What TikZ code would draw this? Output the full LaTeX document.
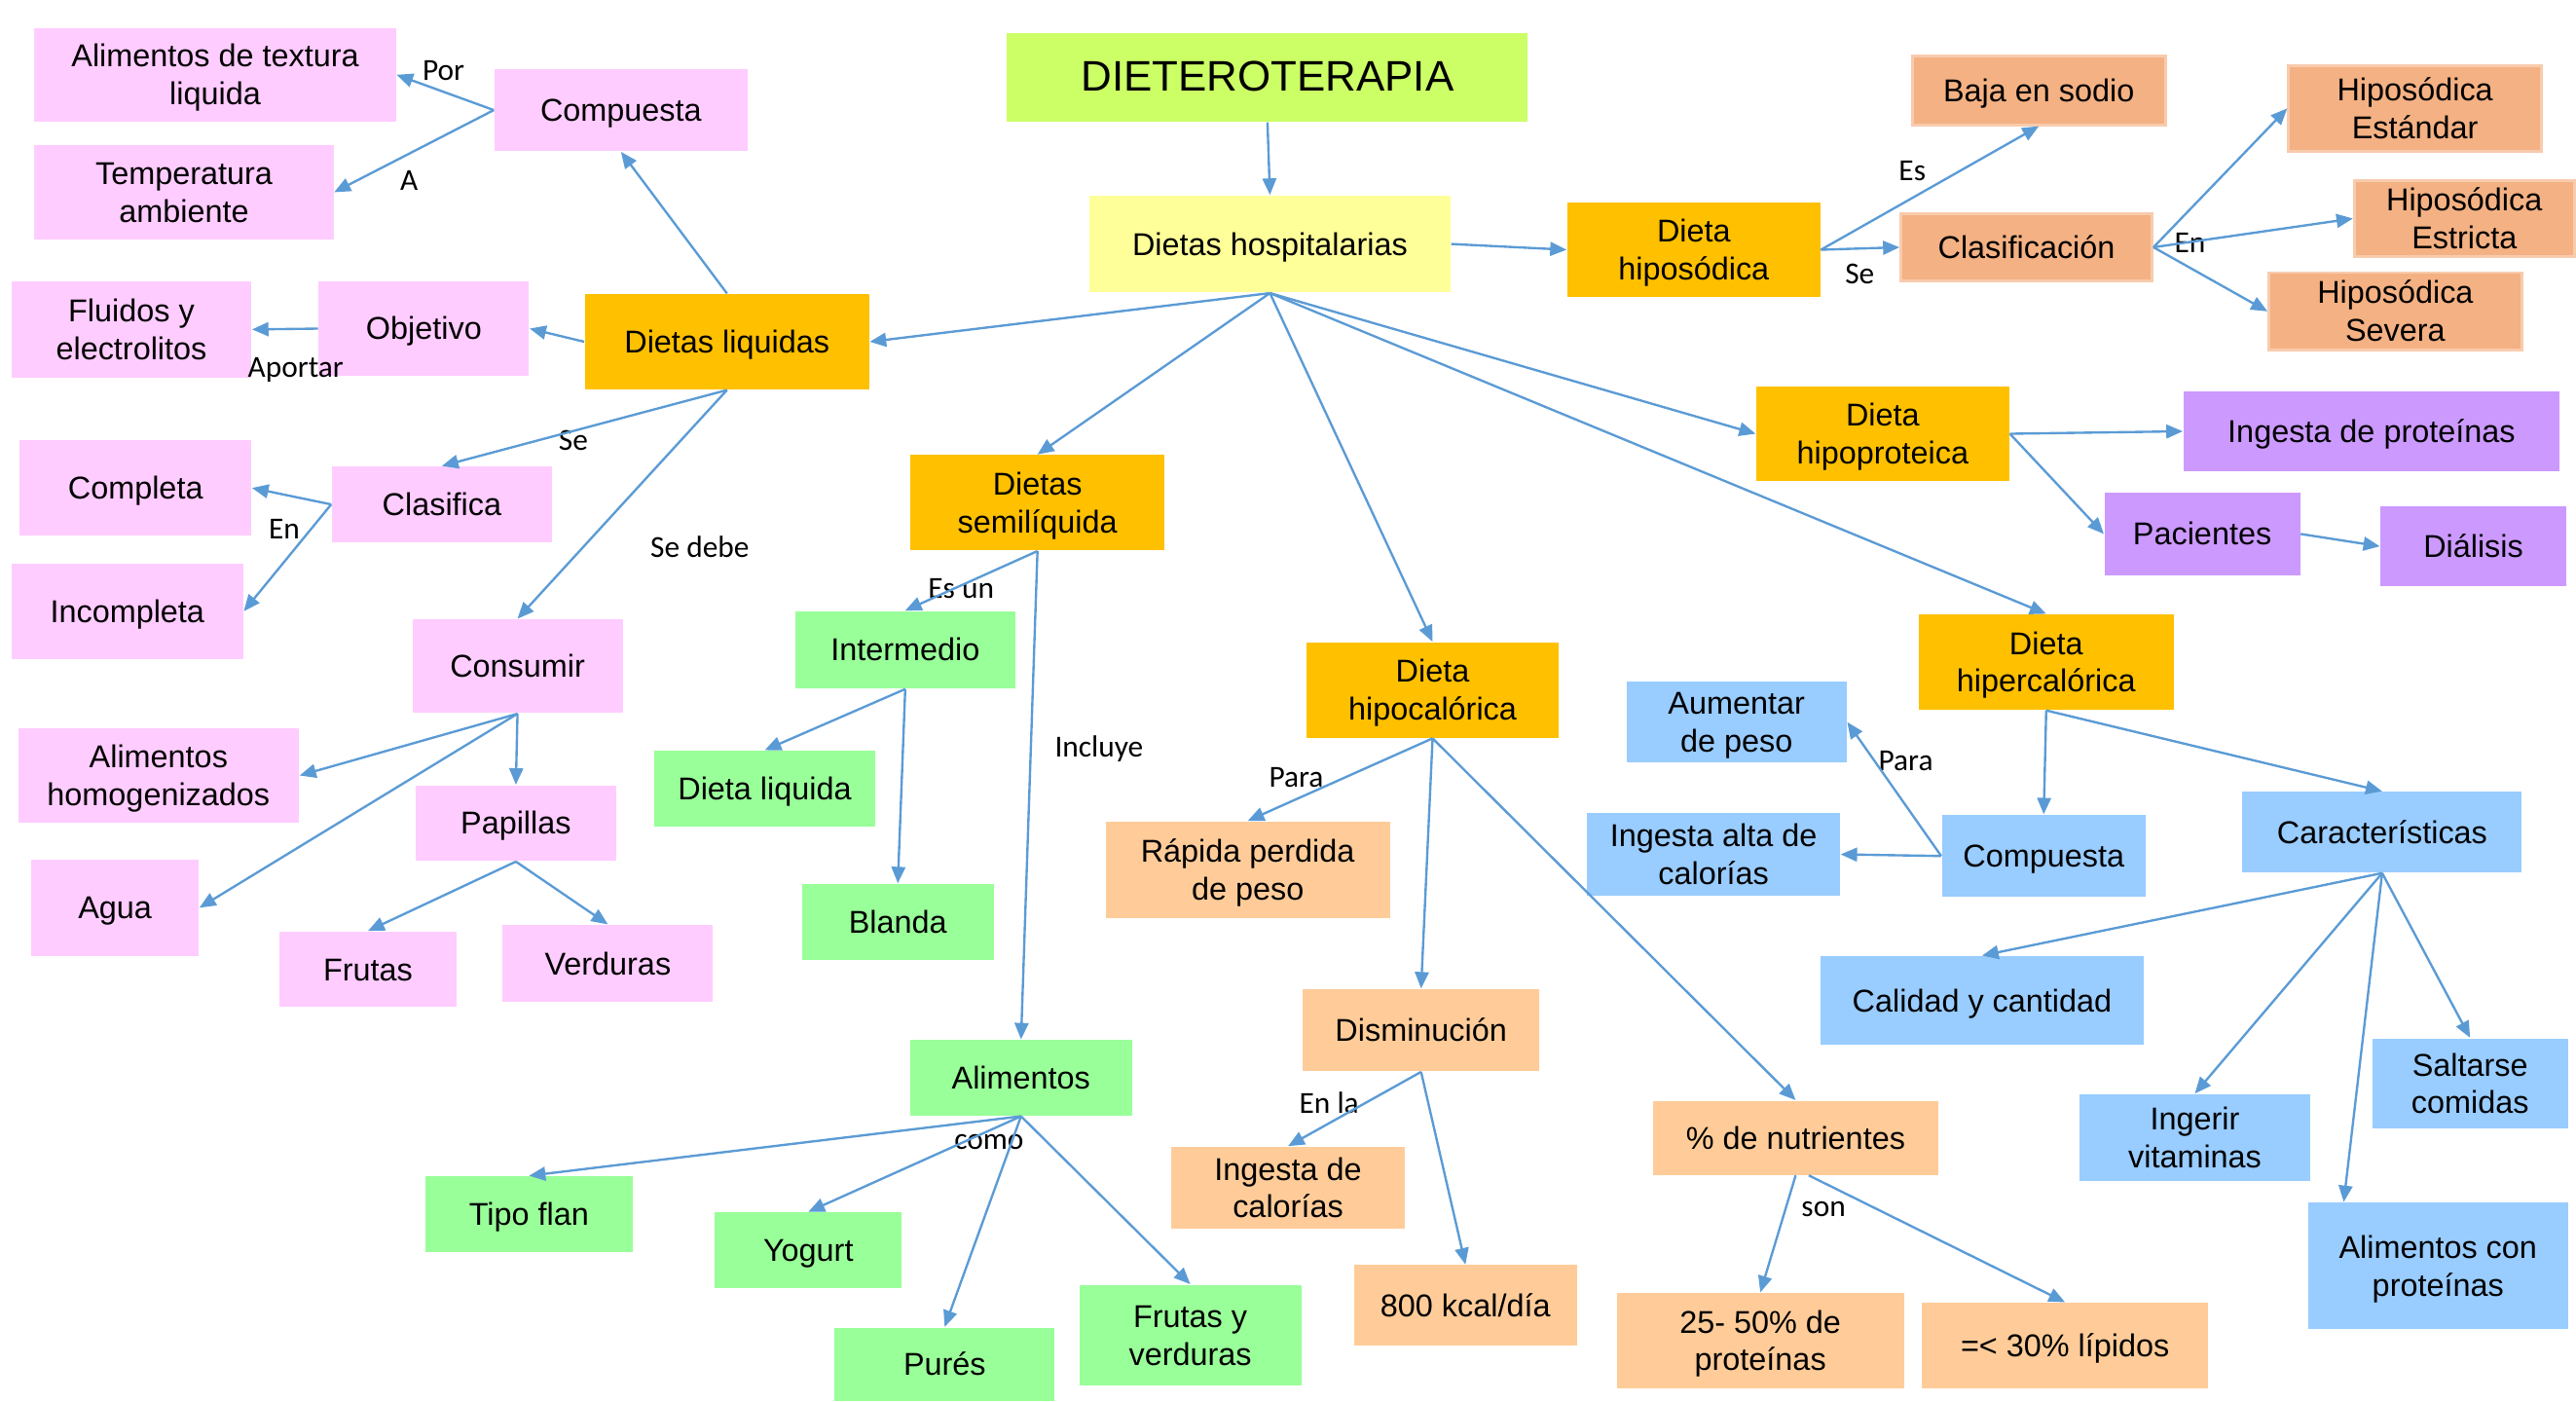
\documentclass[tikz,border=0pt]{standalone}
\usepackage{fontspec}
\setmainfont{Liberation Sans}
\newfontfamily\lblfont{Carlito}
\usetikzlibrary{arrows.meta,calc}
\definecolor{cLime}{HTML}{CCFF66}
\definecolor{cYel}{HTML}{FFFF99}
\definecolor{cOra}{HTML}{FFC000}
\definecolor{cPink}{HTML}{FFCCFF}
\definecolor{cSal}{HTML}{F4B183}
\definecolor{cSalB}{HTML}{F8CBAD}
\definecolor{cPur}{HTML}{CC99FF}
\definecolor{cGre}{HTML}{99FF99}
\definecolor{cPea}{HTML}{FFCC99}
\definecolor{cBlu}{HTML}{99CCFF}
\definecolor{cArr}{HTML}{5B9BD5}
\newcommand\bx[7]{\node[#1, minimum width={(#5-#3)*0.5pt}, minimum height={(#6-#4)*0.5pt}] (#2) at ({(#3+#5)/2},{(#4+#6)/2}) {\raisebox{-1.1pt}[\height][\depth]{\begin{tabular}{@{}c@{}}#7\end{tabular}}};}
\tikzset{
  box/.style={inner sep=0pt, font=\fontsize{9.6}{11.5}\selectfont},
  tit/.style={box, fill=cLime, font=\fontsize{13}{15}\selectfont},
  yel/.style={box, fill=cYel},
  ora/.style={box, fill=cOra},
  pk/.style={box, fill=cPink},
  salm/.style={box, fill=cSal, draw=cSalB, line width=0.8pt},
  pur/.style={box, fill=cPur},
  gre/.style={box, fill=cGre},
  pea/.style={box, fill=cPea},
  blu/.style={box, fill=cBlu},
  lbl/.style={inner sep=0pt, font=\lblfont\fontsize{9.3}{11}\selectfont},
  arr/.style={draw=cArr, line width=0.7pt, -{Triangle[length=5pt,width=4.2pt]}}
}
\begin{document}
\begin{tikzpicture}[x=0.5pt,y=-0.5pt]
\useasboundingbox (0,0) rectangle (1568,853);
% nodes
\bx{tit}{title}{613}{20}{930}{74}{DIETEROTERAPIA}
\bx{yel}{dh}{663}{119}{883}{178}{Dietas hospitalarias}
\bx{ora}{hs}{954}{123}{1108}{181}{Dieta\\hiposódica}
\bx{salm}{bs}{1164}{34}{1318}{76}{Baja en sodio}
\bx{salm}{cl}{1157}{130}{1310}{171}{Clasificación}
\bx{salm}{est}{1393}{40}{1547}{92}{Hiposódica\\Estándar}
\bx{salm}{estr}{1433}{110}{1567}{156}{Hiposódica\\Estricta}
\bx{salm}{sev}{1381}{166}{1535}{213}{Hiposódica\\Severa}
\bx{ora}{hp}{1069}{235}{1223}{293}{Dieta\\hipoproteica}
\bx{pur}{ip}{1329}{238}{1558}{287}{Ingesta de proteínas}
\bx{pur}{pac}{1281}{300}{1400}{350}{Pacientes}
\bx{pur}{dia}{1449}{308}{1562}{357}{Diálisis}
\bx{ora}{hc}{1168}{374}{1323}{432}{Dieta\\hipercalórica}
\bx{blu}{aum}{990}{415}{1124}{464}{Aumentar\\de peso}
\bx{blu}{iac}{966}{495}{1120}{545}{Ingesta alta de\\calorías}
\bx{blu}{cpb}{1182}{496}{1306}{546}{Compuesta}
\bx{blu}{car}{1365}{482}{1535}{531}{Características}
\bx{blu}{cyc}{1108}{582}{1305}{636}{Calidad y cantidad}
\bx{blu}{salt}{1444}{632}{1563}{687}{Saltarse\\comidas}
\bx{blu}{ing}{1266}{666}{1406}{719}{Ingerir\\vitaminas}
\bx{blu}{acp}{1405}{732}{1563}{809}{Alimentos con\\proteínas}
\bx{pea}{nut}{1006}{670}{1180}{715}{\% de nutrientes}
\bx{pea}{n25}{984}{787}{1159}{845}{25- 50\% de\\proteínas}
\bx{pea}{lip}{1170}{793}{1344}{845}{=< 30\% lípidos}
\bx{ora}{hco}{795}{391}{949}{449}{Dieta\\hipocalórica}
\bx{pea}{rp}{673}{500}{846}{559}{Rápida perdida\\de peso}
\bx{pea}{dis}{793}{602}{937}{652}{Disminución}
\bx{pea}{ic}{713}{698}{855}{748}{Ingesta de\\calorías}
\bx{pea}{kcal}{824}{770}{960}{819}{800 kcal/día}
\bx{ora}{sem}{554}{277}{709}{335}{Dietas\\semilíquida}
\bx{gre}{inter}{484}{372}{618}{419}{Intermedio}
\bx{gre}{dliq}{398}{457}{533}{503}{Dieta liquida}
\bx{gre}{bla}{488}{538}{605}{584}{Blanda}
\bx{gre}{ali}{554}{633}{689}{679}{Alimentos}
\bx{gre}{flan}{259}{716}{385}{762}{Tipo flan}
\bx{gre}{yog}{435}{738}{549}{784}{Yogurt}
\bx{gre}{pur}{508}{808}{642}{853}{Purés}
\bx{gre}{fyv}{657}{782}{792}{843}{Frutas y\\verduras}
\bx{ora}{dl}{356}{179}{529}{237}{Dietas liquidas}
\bx{pk}{cpp}{301}{42}{455}{92}{Compuesta}
\bx{pk}{atl}{21}{17}{241}{74}{Alimentos de textura\\liquida}
\bx{pk}{tem}{21}{88}{203}{146}{Temperatura\\ambiente}
\bx{pk}{obj}{194}{171}{322}{229}{Objetivo}
\bx{pk}{flu}{7}{171}{153}{230}{Fluidos y\\electrolitos}
\bx{pk}{clf}{202}{284}{336}{330}{Clasifica}
\bx{pk}{comp}{12}{268}{153}{326}{Completa}
\bx{pk}{inc}{7}{343}{148}{401}{Incompleta}
\bx{pk}{cons}{251}{377}{379}{434}{Consumir}
\bx{pk}{ah}{11}{443}{182}{501}{Alimentos\\homogenizados}
\bx{pk}{agua}{19}{523}{121}{582}{Agua}
\bx{pk}{pap}{253}{478}{375}{524}{Papillas}
\bx{pk}{fru}{170}{567}{278}{613}{Frutas}
\bx{pk}{ver}{306}{563}{434}{610}{Verduras}
% labels
\node[lbl] (l1) at (270,43) {Por};
\node[lbl] (l2) at (249,110) {A};
\node[lbl] (l3) at (180,225) {Aportar};
\node[lbl] (l4) at (349,268) {Se};
\node[lbl] (l5) at (173,322) {En};
\node[lbl] (l6) at (426,333) {Se debe};
\node[lbl] (l7) at (585,358) {Es un};
\node[lbl] (l8) at (669,456) {Incluye};
\node[lbl] (l9) at (789,473) {Para};
\node[lbl] (l10) at (809,671) {En la};
\node[lbl] (l11) at (602,695) {como};
\node[lbl] (l12) at (1110,736) {son};
\node[lbl] (l13) at (1164,104) {Es};
\node[lbl] (l14) at (1132,167) {Se};
\node[lbl] (l15) at (1333,148) {En};
\node[lbl] (l16) at (1160,463) {Para};
% edges
\draw[arr] (title.south) -- (dh.north);
\draw[arr] (dh.east) -- (hs.west);
\draw[arr] (dh.south) -- (dl.east);
\draw[arr] (dh.south) -- (sem.north);
\draw[arr] (dh.south) -- (hco.north);
\draw[arr] (dh.south) -- (hp.west);
\draw[arr] (dh.south) -- (hc.north);
\draw[arr] (hs.east) -- (bs.south);
\draw[arr] (hs.east) -- (cl.west);
\draw[arr] (cl.east) -- (est.west);
\draw[arr] (cl.east) -- (estr.west);
\draw[arr] (cl.east) -- (sev.west);
\draw[arr] (hp.east) -- (ip.west);
\draw[arr] (hp.east) -- (pac.west);
\draw[arr] (pac.east) -- (dia.west);
\draw[arr] (hc.south) -- (cpb.north);
\draw[arr] (hc.south) -- (car.north);
\draw[arr] (cpb.west) -- (iac.east);
\draw[arr] (cpb.west) -- (aum.east);
\draw[arr] (car.south) -- (cyc.north);
\draw[arr] (car.south) -- (ing.north);
\draw[arr] (car.south) -- ([xshift=11pt]acp.north west);
\draw[arr] (car.south) -- (salt.north);
\draw[arr] (hco.south) -- (rp.north);
\draw[arr] (hco.south) -- (dis.north);
\draw[arr] (hco.south) -- (nut.north);
\draw[arr] (nut.south) -- (n25.north);
\draw[arr] ([xshift=4pt]nut.south) -- (lip.north);
\draw[arr] (dis.south) -- (ic.north);
\draw[arr] (dis.south) -- (kcal.north);
\draw[arr] (sem.south) -- (inter.north);
\draw[arr] (sem.south) -- (ali.north);
\draw[arr] (inter.south) -- (dliq.north);
\draw[arr] (inter.south) -- (bla.north);
\draw[arr] (ali.south) -- (flan.north);
\draw[arr] (ali.south) -- (yog.north);
\draw[arr] (ali.south) -- (pur.north);
\draw[arr] (ali.south) -- (fyv.north);
\draw[arr] (dl.north) -- (cpp.south);
\draw[arr] (dl.west) -- (obj.east);
\draw[arr] (obj.west) -- (flu.east);
\draw[arr] (cpp.west) -- (atl.east);
\draw[arr] (cpp.west) -- (tem.east);
\draw[arr] (dl.south) -- (clf.north);
\draw[arr] (dl.south) -- (cons.north);
\draw[arr] (clf.west) -- (comp.east);
\draw[arr] (clf.west) -- (inc.east);
\draw[arr] (cons.south) -- (ah.east);
\draw[arr] (cons.south) -- (agua.east);
\draw[arr] (cons.south) -- (pap.north);
\draw[arr] (pap.south) -- (fru.north);
\draw[arr] (pap.south) -- (ver.north);
\end{tikzpicture}
\end{document}
